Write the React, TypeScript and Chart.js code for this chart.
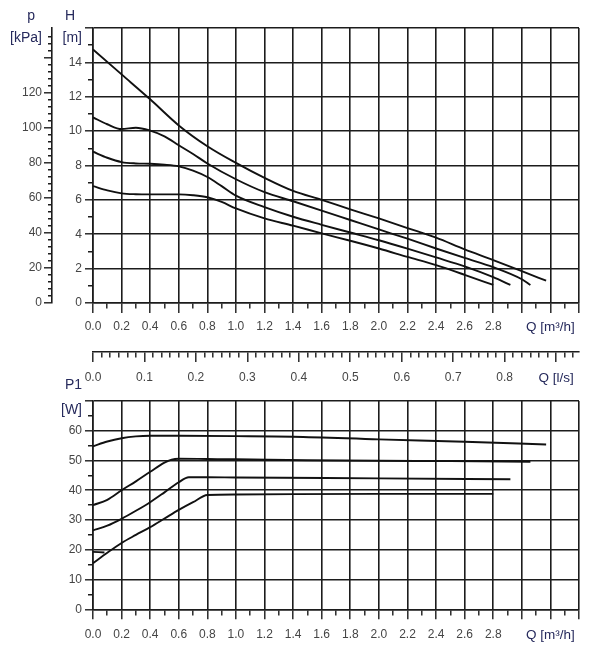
import React, { useEffect, useRef } from 'react';
import { Chart, registerables } from 'chart.js';

Chart.register(...registerables);

// ---------------- data ----------------
// Head H [m] against flow Q [m³/h] for the four speed settings
const H1_Q = [0, 0.2, 0.4, 0.6, 0.8, 1.0, 1.2, 1.4, 1.6, 1.8, 2.0, 2.2, 2.4, 2.6, 2.8, 3.0, 3.17];
const H1 = [14.75, 13.3, 11.85, 10.33, 9.12, 8.15, 7.28, 6.52, 6.0, 5.45, 4.92, 4.36, 3.8, 3.12, 2.5, 1.85, 1.3];

const H2_Q = [0, 0.1, 0.2, 0.3, 0.4, 0.5, 0.6, 0.7, 0.8, 1.0, 1.2, 1.4, 1.6, 1.8, 2.0, 2.2, 2.4, 2.6, 2.8, 3.0, 3.06];
const H2 = [10.8, 10.4, 10.12, 10.2, 10.03, 9.7, 9.18, 8.67, 8.12, 7.2, 6.45, 5.92, 5.38, 4.83, 4.28, 3.74, 3.17, 2.62, 2.08, 1.38, 1.05];

const H3_Q = [0, 0.1, 0.2, 0.3, 0.4, 0.5, 0.6, 0.7, 0.8, 0.9, 1.0, 1.2, 1.4, 1.6, 1.8, 2.0, 2.2, 2.4, 2.6, 2.8, 2.92];
const H3 = [8.8, 8.45, 8.2, 8.12, 8.1, 8.05, 7.95, 7.7, 7.33, 6.8, 6.25, 5.58, 5.02, 4.55, 4.1, 3.65, 3.16, 2.65, 2.13, 1.5, 1.05];

const H4_Q = [0, 0.1, 0.2, 0.3, 0.4, 0.5, 0.6, 0.7, 0.8, 0.9, 1.0, 1.2, 1.4, 1.6, 1.8, 2.0, 2.2, 2.4, 2.6, 2.8];
const H4 = [6.8, 6.55, 6.38, 6.33, 6.32, 6.32, 6.32, 6.27, 6.15, 5.88, 5.5, 4.92, 4.5, 4.05, 3.62, 3.17, 2.68, 2.2, 1.64, 1.05];

// Power input P1 [W] against flow Q [m³/h]
const P1A_Q = [0, 0.1, 0.2, 0.3, 0.4, 0.6, 1.0, 1.4, 2.0, 2.6, 3.17];
const P1A = [54.8, 56.4, 57.5, 58.1, 58.3, 58.3, 58.2, 58.0, 57.1, 56.3, 55.4];

const P1B_Q = [0, 0.1, 0.2, 0.3, 0.4, 0.5, 0.55, 0.6, 0.8, 1.0, 1.5, 2.0, 2.5, 3.06];
const P1B = [35, 36.8, 40, 43, 46.2, 49.3, 50.3, 50.6, 50.5, 50.4, 50.1, 49.9, 49.8, 49.6];

const P1C_Q = [0, 0.1, 0.2, 0.3, 0.4, 0.5, 0.6, 0.67, 0.8, 1.0, 2.0, 2.92];
const P1C = [26.5, 28.1, 30.4, 33.1, 36, 39.3, 42.7, 44.4, 44.4, 44.3, 44.0, 43.7];

const P1D_Q = [0, 0.1, 0.2, 0.3, 0.4, 0.5, 0.6, 0.7, 0.8, 1.0, 2.0, 2.8];
const P1D = [15.5, 19.0, 22.3, 25, 27.6, 30.5, 33.4, 36, 38.4, 38.6, 38.8, 38.8];

const P1D_START_Q = [0, 0.08];
const P1D_START = [19.3, 19.1];

// ---------------- axes / tick labels ----------------
const Q_MAX = 3.4;
const Q_MINOR_STEP = 0.1;
const Q_MAJOR_LABELS = ['0.0', '0.2', '0.4', '0.6', '0.8', '1.0', '1.2', '1.4', '1.6', '1.8', '2.0', '2.2', '2.4', '2.6', '2.8'];
const Q_UNIT = 'Q [m³/h]';
const Q_UNIT_MAJOR_INDEX = 16; // sits at 3.2

const M3H_PER_LS = 3.6;
const QLS_MAJOR_LABELS = ['0.0', '0.1', '0.2', '0.3', '0.4', '0.5', '0.6', '0.7', '0.8'];
const QLS_UNIT = 'Q [l/s]';
const QLS_UNIT_MAJOR_INDEX = 9; // sits at 0.9

const H_MAX = 16;
const H_MAJOR_LABELS = ['0', '2', '4', '6', '8', '10', '12', '14'];
const H_TITLE = ['H\u2002', '[m]'];
const H_TITLE_AT = 16.03;

const KPA_PER_M = 9.81;
const P_TICK_MAX = 152;
const P_MAJOR_LABELS = ['0', '20', '40', '60', '80', '100', '120'];
const P_TITLE = ['p\u2002', '[kPa]'];

const P1_MAX = 70;
const P1_MAJOR_LABELS = ['0', '10', '20', '30', '40', '50', '60'];
const P1_TITLE = ['P1', '[W]'];
const P1_TITLE_AT = 71.15;

// ---------------- styling ----------------
const FONT = "'Liberation Sans', Arial, Helvetica, sans-serif";
const NUM_COLOR = '#454545';
const TITLE_COLOR = '#262a5c';
const LINE = '#1c1c1c';
const CURVE = '#111111';

type Kind = 'major' | 'minor' | 'unit' | 'title';
interface TickDef { value: number; label: string | string[]; kind: Kind; }

function tickDefs(max: number, minorStep: number, perMajor: number, majorLabels: string[],
  unitIndex?: number, unitLabel?: string): TickDef[] {
  const defs: TickDef[] = [];
  const n = Math.floor(max / minorStep + 1e-6);
  for (let i = 0; i <= n; i++) {
    const value = i * minorStep;
    if (i % perMajor !== 0) { defs.push({ value, label: '', kind: 'minor' }); continue; }
    const m = i / perMajor;
    if (m < majorLabels.length) defs.push({ value, label: majorLabels[m], kind: 'major' });
    else if (unitIndex !== undefined && m === unitIndex) defs.push({ value, label: unitLabel || '', kind: 'unit' });
    else defs.push({ value, label: '', kind: 'major' });
  }
  return defs;
}

interface AxisOpts {
  position: 'left' | 'bottom';
  weight: number;
  min: number;
  max: number;
  size: number;
  tickLength: number;
  minorDash: number[];
  gridOnArea: boolean;
  padding: number;
  titleLineHeight?: string;
}

function makeScale(defs: TickDef[], o: AxisOpts): any {
  return {
    type: 'linear',
    position: o.position,
    weight: o.weight,
    min: o.min,
    max: o.max,
    afterBuildTicks: (scale: any) => {
      scale.ticks = defs.map((d) => ({ value: d.value }));
    },
    afterFit: (scale: any) => {
      if (o.position === 'left') scale.width = o.size;
      else scale.height = o.size;
      scale.paddingTop = 0;
      scale.paddingBottom = 0;
      scale.paddingLeft = 0;
      scale.paddingRight = 0;
    },
    border: { display: true, color: LINE, width: 1.6 },
    grid: {
      display: true,
      drawOnChartArea: o.gridOnArea,
      drawTicks: true,
      tickLength: o.tickLength,
      lineWidth: 1.6,
      color: (ctx: any) => {
        const d = defs[ctx.index];
        return o.gridOnArea && d && (d.kind === 'major' || d.kind === 'unit') ? LINE : 'rgba(0,0,0,0)';
      },
      tickColor: (ctx: any) => {
        const d = defs[ctx.index];
        return d && d.kind === 'title' ? 'rgba(0,0,0,0)' : LINE;
      },
      tickWidth: 1.4,
      tickBorderDash: (ctx: any) => {
        const d = defs[ctx.index];
        return d && d.kind === 'minor' ? o.minorDash : [];
      },
    },
    ticks: {
      autoSkip: false,
      maxRotation: 0,
      minRotation: 0,
      padding: o.padding,
      callback: (_v: any, i: number) => (defs[i] ? defs[i].label : ''),
      color: (ctx: any) => {
        const d = defs[ctx.index];
        return d && (d.kind === 'title' || d.kind === 'unit') ? TITLE_COLOR : NUM_COLOR;
      },
      font: (ctx: any) => {
        const d = defs[ctx.index];
        if (d && d.kind === 'title') return { family: FONT, size: 14, lineHeight: o.titleLineHeight || '22px' };
        if (d && d.kind === 'unit') return { family: FONT, size: 13.5 };
        return { family: FONT, size: 12 };
      },
    },
  };
}

function series(qs: number[], vs: number[]) {
  return qs.map((q, i) => ({ x: q, y: vs[i] }));
}

function curve(label: string, qs: number[], vs: number[]) {
  return {
    label,
    data: series(qs, vs),
    borderColor: CURVE,
    borderWidth: 1.9,
    pointRadius: 0,
    fill: false,
    cubicInterpolationMode: 'monotone' as const,
    xAxisID: 'x',
    yAxisID: 'y',
  };
}

export default function App() {
  const topRef = useRef<HTMLCanvasElement>(null);
  const botRef = useRef<HTMLCanvasElement>(null);

  useEffect(() => {
    Chart.defaults.font.family = FONT;

    const qDefs = tickDefs(Q_MAX, Q_MINOR_STEP, 2, Q_MAJOR_LABELS, Q_UNIT_MAJOR_INDEX, Q_UNIT);
    const qDefsBottom = tickDefs(Q_MAX, Q_MINOR_STEP, 2, Q_MAJOR_LABELS, Q_UNIT_MAJOR_INDEX, Q_UNIT);
    const qlsDefs = tickDefs(Q_MAX / M3H_PER_LS, 0.1 / 6, 6, QLS_MAJOR_LABELS, QLS_UNIT_MAJOR_INDEX, QLS_UNIT);
    const hDefs = tickDefs(H_MAX, 1, 2, H_MAJOR_LABELS);
    hDefs.push({ value: H_TITLE_AT, label: H_TITLE, kind: 'title' });
    const pDefs = tickDefs(P_TICK_MAX, 4, 5, P_MAJOR_LABELS);
    pDefs.push({ value: H_TITLE_AT * KPA_PER_M, label: P_TITLE, kind: 'title' });
    const p1Defs = tickDefs(P1_MAX, 5, 2, P1_MAJOR_LABELS);
    p1Defs.push({ value: P1_TITLE_AT, label: P1_TITLE, kind: 'title' });

    const common: any = {
      responsive: false,
      animation: false,
      events: [],
      plugins: { legend: { display: false }, tooltip: { enabled: false } },
    };

    const top = new Chart(topRef.current!, {
      type: 'line',
      data: {
        datasets: [
          curve('H max', H1_Q, H1),
          curve('H 2', H2_Q, H2),
          curve('H 3', H3_Q, H3),
          curve('H min', H4_Q, H4),
        ],
      },
      options: {
        ...common,
        layout: { padding: { top: 28, right: 13, bottom: 0, left: 0 } },
        scales: {
          x: makeScale(qDefs, { position: 'bottom', weight: 0, min: 0, max: Q_MAX, size: 49, tickLength: 10, minorDash: [5, 50], gridOnArea: true, padding: 6 }),
          xls: makeScale(qlsDefs, { position: 'bottom', weight: 1, min: 0, max: Q_MAX / M3H_PER_LS, size: 40, tickLength: 10, minorDash: [5, 50], gridOnArea: false, padding: 8 }),
          y: makeScale(hDefs, { position: 'left', weight: 0, min: 0, max: H_MAX, size: 41, tickLength: 8, minorDash: [0, 3, 5, 50], gridOnArea: true, padding: 3 }),
          yp: makeScale(pDefs, { position: 'left', weight: 1, min: 0, max: H_MAX * KPA_PER_M, size: 52, tickLength: 8, minorDash: [0, 4, 4, 50], gridOnArea: false, padding: 2 }),
        },
      },
    } as any);

    const bot = new Chart(botRef.current!, {
      type: 'line',
      data: {
        datasets: [
          curve('P1 max', P1A_Q, P1A),
          curve('P1 2', P1B_Q, P1B),
          curve('P1 3', P1C_Q, P1C),
          curve('P1 min', P1D_Q, P1D),
          curve('P1 min start', P1D_START_Q, P1D_START),
        ],
      },
      options: {
        ...common,
        layout: { padding: { top: 41, right: 13, bottom: 0, left: 0 } },
        scales: {
          x: makeScale(qDefsBottom, { position: 'bottom', weight: 0, min: 0, max: Q_MAX, size: 42.7, tickLength: 10, minorDash: [5, 50], gridOnArea: true, padding: 8 }),
          y: makeScale(p1Defs, { position: 'left', weight: 0, min: 0, max: P1_MAX, size: 93, tickLength: 8, minorDash: [0, 3, 5, 50], gridOnArea: true, padding: 3, titleLineHeight: '25px' }),
        },
      },
    } as any);

    return () => {
      top.destroy();
      bot.destroy();
    };
  }, []);

  return (
    <div style={{ position: 'absolute', left: 0, top: 0, width: 592, height: 652, background: '#ffffff', overflow: 'hidden' }}>
      <canvas ref={topRef} width={592} height={392} style={{ position: 'absolute', left: 0, top: 0, width: 592, height: 392 }} />
      <canvas ref={botRef} width={592} height={292} style={{ position: 'absolute', left: 0, top: 360, width: 592, height: 292 }} />
    </div>
  );
}
